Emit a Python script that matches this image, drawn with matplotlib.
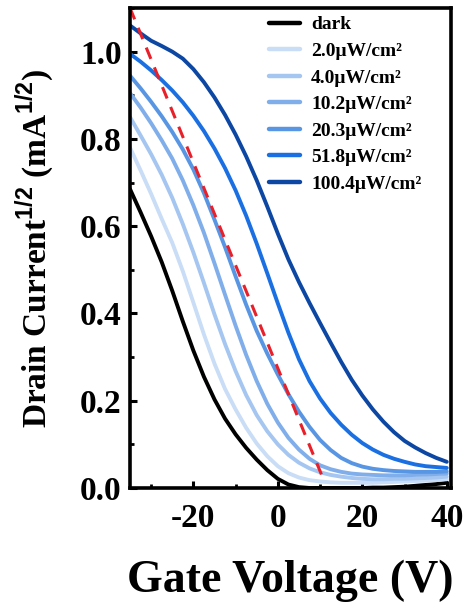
import matplotlib
matplotlib.use("Agg")
import matplotlib.pyplot as plt
from matplotlib.ticker import MultipleLocator

plt.rcParams['font.family'] = ['Liberation Serif', 'DejaVu Serif']
plt.rcParams['font.weight'] = 'bold'
plt.rcParams['mathtext.fontset'] = 'custom'
plt.rcParams['mathtext.rm'] = 'Liberation Serif:bold'
plt.rcParams['mathtext.sf'] = 'Liberation Sans'

# Gate voltage grid (V)
vg = [-35, -32.5, -30, -27.5, -25, -22.5, -20, -17.5, -15, -12.5, -10, -7.5, -5, -2.5, 0,
      2.5, 5, 7.5, 10, 12.5, 15, 17.5, 20, 22.5, 25, 27.5, 30, 32.5, 35, 37.5, 40]

dark = [0.685, 0.632, 0.577, 0.518, 0.452, 0.382, 0.315, 0.255, 0.203, 0.159, 0.123, 0.092, 0.065, 0.041, 0.021,
        0.008, 0.002, 0.000, 0.000, 0.000, 0.000, 0.000, 0.000, 0.001, 0.001, 0.002, 0.003, 0.005, 0.007, 0.009, 0.012]
p2_0 = [0.780, 0.728, 0.674, 0.617, 0.562, 0.497, 0.425, 0.352, 0.285, 0.227, 0.180, 0.138, 0.102, 0.073, 0.050,
        0.034, 0.024, 0.018, 0.015, 0.013, 0.012, 0.012, 0.012, 0.012, 0.013, 0.014, 0.015, 0.016, 0.017, 0.018, 0.020]
p4_0 = [0.850, 0.808, 0.765, 0.718, 0.665, 0.605, 0.540, 0.470, 0.398, 0.330, 0.268, 0.213, 0.167, 0.130, 0.100,
        0.076, 0.058, 0.045, 0.036, 0.030, 0.026, 0.023, 0.021, 0.020, 0.020, 0.021, 0.021, 0.022, 0.023, 0.024, 0.026]
p10_2 = [0.905, 0.872, 0.836, 0.797, 0.755, 0.705, 0.648, 0.585, 0.515, 0.443, 0.372, 0.305, 0.245, 0.193, 0.150,
         0.115, 0.088, 0.067, 0.052, 0.043, 0.037, 0.033, 0.031, 0.030, 0.029, 0.029, 0.029, 0.030, 0.031, 0.032, 0.033]
p20_3 = [0.945, 0.916, 0.885, 0.852, 0.816, 0.776, 0.730, 0.676, 0.615, 0.552, 0.485, 0.420, 0.360, 0.308, 0.260,
         0.215, 0.175, 0.140, 0.110, 0.087, 0.069, 0.057, 0.049, 0.044, 0.041, 0.039, 0.038, 0.037, 0.037, 0.037, 0.038]
p51_8 = [0.995, 0.977, 0.957, 0.935, 0.911, 0.884, 0.853, 0.818, 0.778, 0.733, 0.682, 0.624, 0.560, 0.492, 0.423,
         0.356, 0.295, 0.245, 0.205, 0.172, 0.145, 0.122, 0.103, 0.088, 0.076, 0.067, 0.060, 0.054, 0.050, 0.048, 0.046]
p100_4 = [1.060, 1.042, 1.025, 1.013, 1.000, 0.984, 0.960, 0.930, 0.895, 0.855, 0.810, 0.760, 0.705, 0.645, 0.583,
          0.524, 0.472, 0.424, 0.378, 0.333, 0.289, 0.248, 0.212, 0.180, 0.152, 0.128, 0.108, 0.093, 0.080, 0.069, 0.060]

series = [dark, p2_0, p4_0, p10_2, p20_3, p51_8, p100_4]
labels = ['dark', '2.0\u03bcW/cm\u00b2', '4.0\u03bcW/cm\u00b2', '10.2\u03bcW/cm\u00b2',
          '20.3\u03bcW/cm\u00b2', '51.8\u03bcW/cm\u00b2', '100.4\u03bcW/cm\u00b2']
colors = ['#000000', '#c9ddf6', '#a5c6f0', '#80aeea', '#5896e4', '#1a70e2', '#0c47a3']

# linear fit (red dashed)
fit_x = [-35, 11]
fit_y = [1.10, 0.015]

fig = plt.figure(figsize=(4.7, 6.09), dpi=100)
ax = fig.add_axes([130/470, 1-488/609, 321/470, 480/609])

for ys, lab, c in zip(series, labels, colors):
    ax.plot(vg, ys, color=c, lw=2.8, label=lab, solid_capstyle='round', solid_joinstyle='round')
ax.plot(fit_x, fit_y, color='#e8202a', lw=2.2, ls=(0, (4, 3)))

ax.set_xlim(-35, 41)
ax.set_ylim(0, 1.10)
ax.xaxis.set_major_locator(MultipleLocator(20))
ax.xaxis.set_minor_locator(MultipleLocator(10))
ax.yaxis.set_major_locator(MultipleLocator(0.2))
ax.yaxis.set_minor_locator(MultipleLocator(0.1))
ax.xaxis.set_major_formatter(plt.FuncFormatter(lambda v, p: f"{v:.0f}"))
ax.yaxis.set_major_formatter(plt.FuncFormatter(lambda v, p: f"{v:.1f}"))

for s in ax.spines.values():
    s.set_linewidth(2.6)
ax.tick_params(which='major', direction='in', length=5, width=2.2, labelsize=24)
ax.tick_params(axis='x', which='major', pad=11)
ax.tick_params(axis='y', which='major', pad=6)
ax.tick_params(which='minor', direction='in', length=3, width=2.0)
for lab in ax.get_xticklabels() + ax.get_yticklabels():
    lab.set_fontweight('bold')

ax.set_xlabel('Gate Voltage (V)', fontsize=33, fontweight='bold', labelpad=18)
ax.set_ylabel(r'Drain Current$^{\mathsf{1/2}}$ (mA$^{\mathsf{1/2}}$)', fontsize=24,
              fontweight='bold', labelpad=17)

leg = ax.legend(loc='upper left', bbox_to_anchor=(0.385, 1.016), frameon=False,
                prop={'family': 'Liberation Serif', 'weight': 'bold', 'size': 14},
                handlelength=1.6, handletextpad=0.55, labelspacing=0.46, borderpad=0.3)
for h in leg.get_lines():
    h.set_linewidth(3.2)

fig.savefig('out.png', dpi=100)
